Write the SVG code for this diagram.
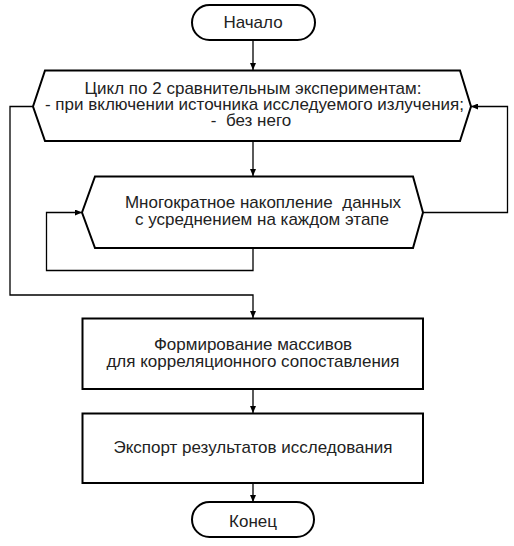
<svg xmlns="http://www.w3.org/2000/svg" width="514" height="546" viewBox="0 0 514 546">
<defs>
<style>
.shape{fill:#fff;stroke:#000;stroke-width:2;stroke-linejoin:miter}
.conn{fill:none;stroke:#000;stroke-width:1.3}
.t{font-family:"Liberation Sans",Arial,sans-serif;font-size:17px;fill:#222;text-anchor:middle}
</style>
<marker id="ah" markerUnits="userSpaceOnUse" markerWidth="7" markerHeight="6" refX="7" refY="3" orient="auto">
<path d="M0,0 L7,3 L0,6 z" fill="#000"/>
</marker>
</defs>
<rect width="514" height="546" fill="#fff"/>
<g id="connectors">
<path class="conn" d="M253,40 V70" marker-end="url(#ah)"/>
<path class="conn" d="M253,141 V176" marker-end="url(#ah)"/>
<path class="conn" d="M253,248 V270.5 H46.5 V212.5 H82" marker-end="url(#ah)"/>
<path class="conn" d="M423,212.5 H507.5 V106.5 H471" marker-end="url(#ah)"/>
<path class="conn" d="M33,106.5 H10 V295 H253 V318" marker-end="url(#ah)"/>
<path class="conn" d="M253,389 V413" marker-end="url(#ah)"/>
<path class="conn" d="M253,483 V502" marker-end="url(#ah)"/>
</g>
<g id="start">
<rect class="shape" x="192" y="5" width="123" height="35" rx="17.5"/>
<text class="t" x="253" y="28">Начало</text>
</g>
<g id="loop1">
<path class="shape" d="M33,106.5 L45,70.5 H460 L471,106.5 L460,141 H45 Z"/>
<text class="t" xml:space="preserve"><tspan x="253" y="94">Цикл по 2 сравнительным экспериментам:</tspan><tspan x="254.5" y="110">- при включении источника исследуемого излучения;</tspan><tspan x="251" y="126">-  без него</tspan></text>
</g>
<g id="loop2">
<path class="shape" d="M82,212.5 L95,176.5 H413 L423,212.5 L413,248 H95 Z"/>
<text class="t" xml:space="preserve"><tspan x="263" y="208">Многократное накопление  данных</tspan><tspan x="262" y="224.5">с усреднением на каждом этапе</tspan></text>
</g>
<g id="form">
<rect class="shape" x="82.5" y="318.5" width="340.5" height="70.5"/>
<text class="t"><tspan x="253" y="350">Формирование массивов</tspan><tspan x="253" y="367">для корреляционного сопоставления</tspan></text>
</g>
<g id="export">
<rect class="shape" x="82.5" y="413.5" width="340.5" height="69.5"/>
<text class="t" x="253" y="453">Экспорт результатов исследования</text>
</g>
<g id="end">
<rect class="shape" x="192" y="502" width="122" height="35" rx="17.5"/>
<text class="t" x="253" y="526.5">Конец</text>
</g>
</svg>
